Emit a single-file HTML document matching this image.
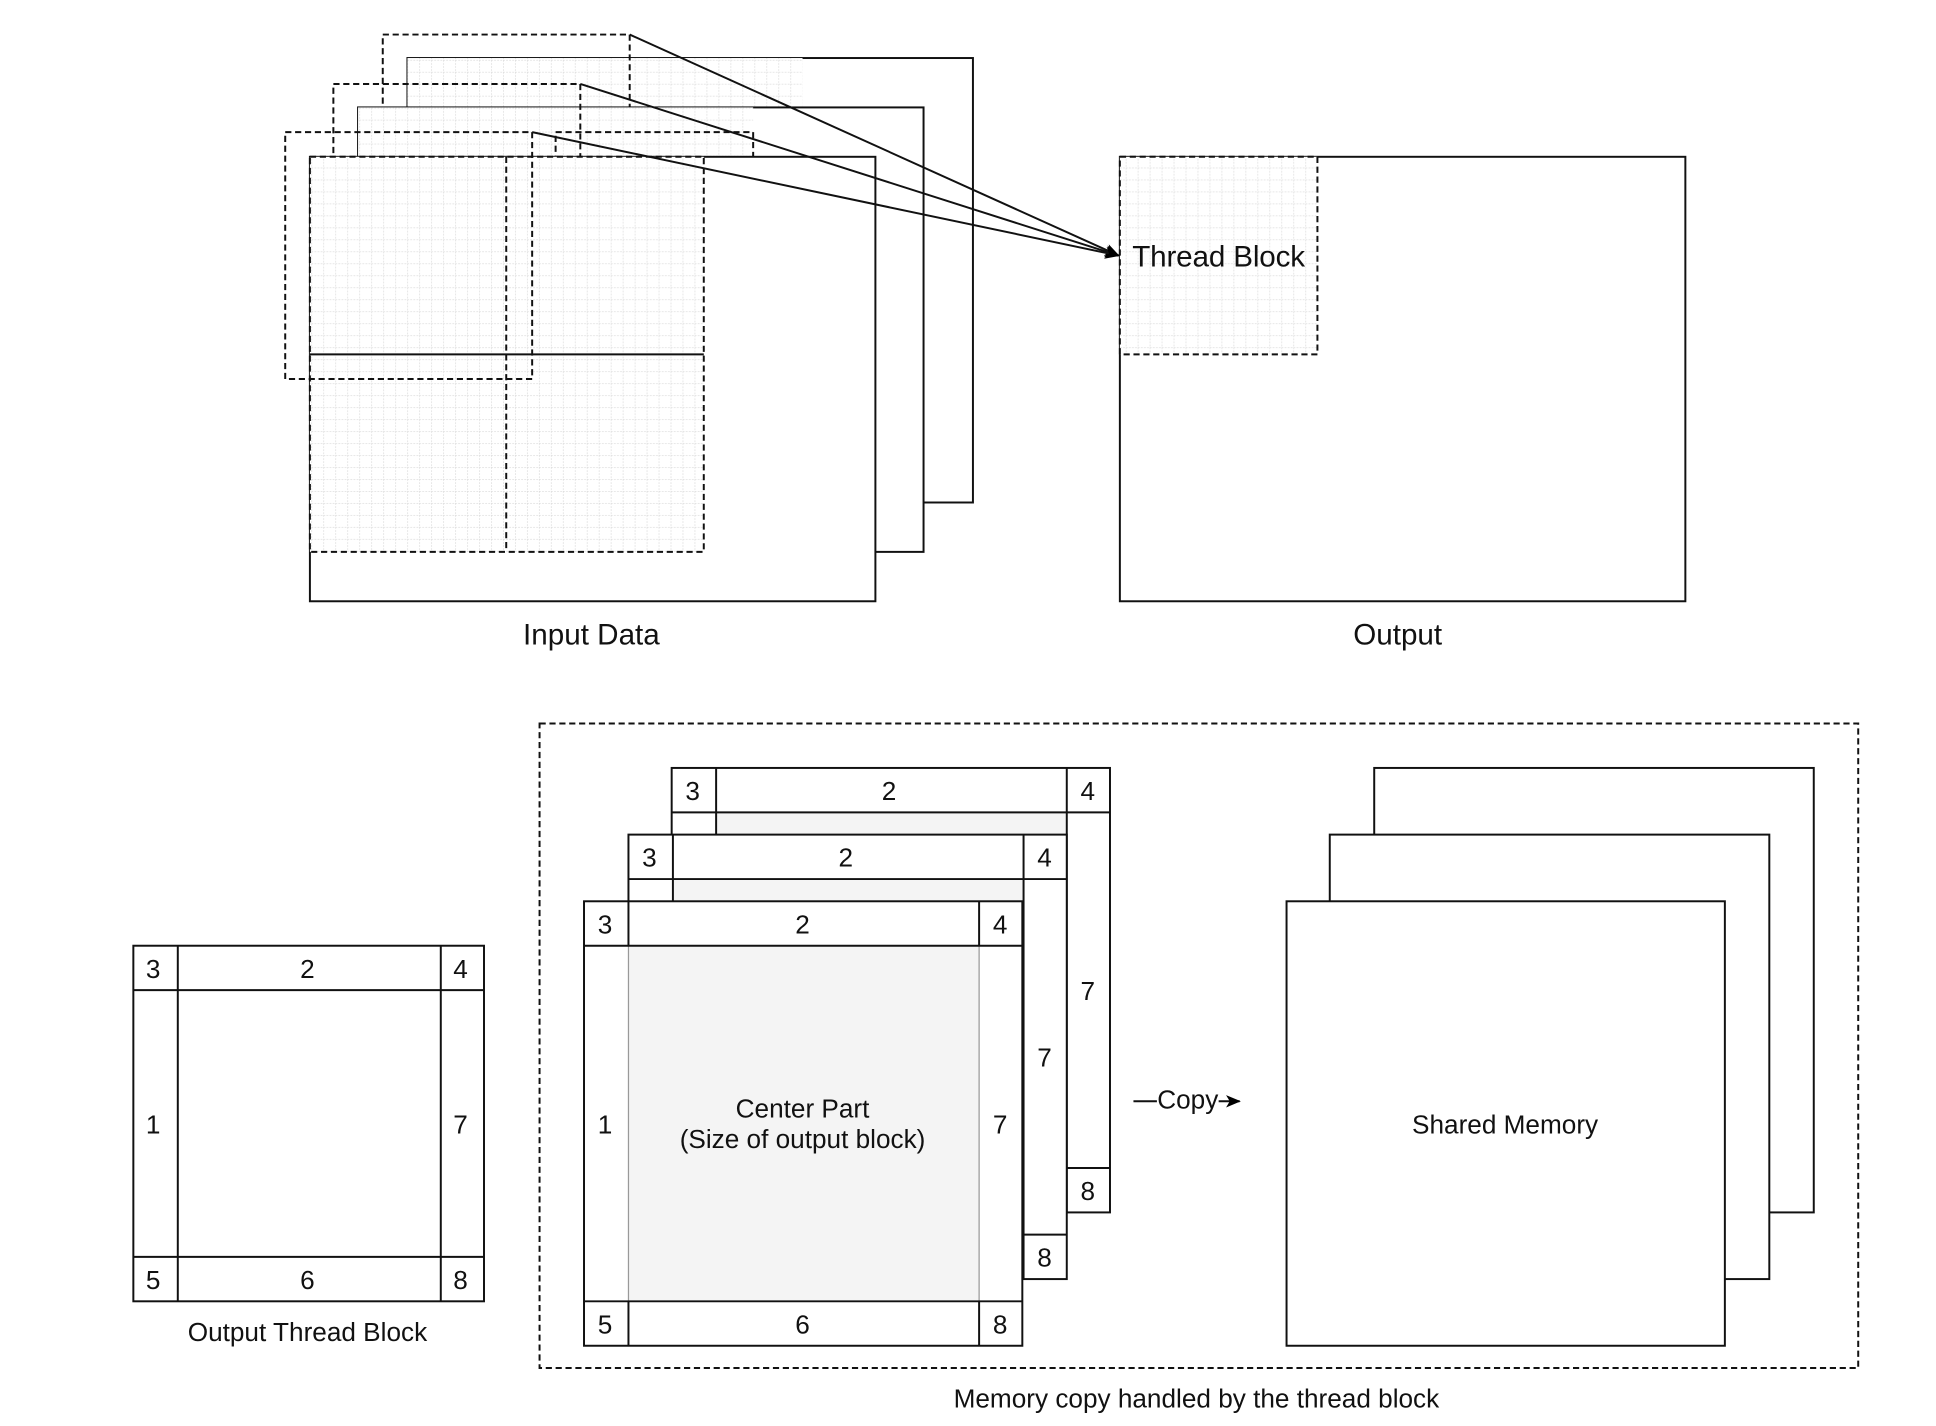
<!DOCTYPE html>
<html><head><meta charset="utf-8"><style>
html,body{margin:0;padding:0;background:#fff;width:1936px;height:1426px;overflow:hidden}
svg{display:block}
text{font-family:"Liberation Sans",Arial,sans-serif;fill:#111}
</style></head><body>
<svg width="1936" height="1426" viewBox="0 0 1568 1155" preserveAspectRatio="none" xmlns="http://www.w3.org/2000/svg">
<defs>
<pattern id="g" width="9.7" height="9.7" patternUnits="userSpaceOnUse">
<rect width="9.7" height="9.7" fill="#fff"/>
<path d="M0 0H9.7M0 0V9.7" stroke="#d8d8d8" stroke-width="1" stroke-dasharray="1.5 1"/>
</pattern>
<marker id="ah" markerWidth="12" markerHeight="10" refX="11" refY="5" orient="auto" markerUnits="userSpaceOnUse">
<path d="M0 0L12 5L0 10L3 5Z" fill="#000"/>
</marker>
</defs>
<g fill="none" stroke="#111" stroke-width="1.6">
<rect x="330" y="47" width="458" height="360" fill="#fff"/>
<rect x="330" y="47" width="320" height="320" fill="url(#g)" stroke="none"/>
<rect x="310" y="28" width="200" height="200" stroke-dasharray="5 3"/>
<rect x="290" y="87" width="458" height="360" fill="#fff"/>
<rect x="290" y="87" width="320" height="320" fill="url(#g)" stroke="none"/>
<rect x="450" y="107" width="160" height="160" stroke-dasharray="5 3"/>
<rect x="270" y="68" width="200" height="200" stroke-dasharray="5 3"/>
<rect x="251" y="127" width="458" height="360" fill="#fff"/>
<rect x="251" y="127" width="319" height="320" fill="url(#g)" stroke-dasharray="5 3"/>
<line x1="410" y1="127" x2="410" y2="447" stroke-dasharray="5 3"/>
<line x1="251" y1="287" x2="570" y2="287"/>
<rect x="231" y="107" width="200" height="200" stroke-dasharray="5 3"/>
<rect x="907" y="127" width="458" height="360" fill="#fff"/>
<rect x="907" y="127" width="160" height="160" fill="url(#g)" stroke-dasharray="5 3"/>
<line x1="510" y1="28" x2="906" y2="207" marker-end="url(#ah)"/>
<line x1="470" y1="68" x2="906" y2="207" marker-end="url(#ah)"/>
<line x1="431" y1="107" x2="906" y2="207" marker-end="url(#ah)"/>
<rect x="437" y="586" width="1068" height="522" stroke-dasharray="5 3"/>
<rect x="108" y="766" width="284" height="288" fill="#fff"/>
<path d="M144 766V1054M357 766V1054M108 802H392M108 1018H392"/>
<rect x="544" y="622" width="355" height="360" fill="#fff"/>
<rect x="580" y="658" width="284" height="288" fill="#f4f4f4" stroke="#999" stroke-width="1"/>
<path d="M580 622V982M864 622V982M544 658H899M544 946H899"/>
<rect x="509" y="676" width="355" height="360" fill="#fff"/>
<rect x="545" y="712" width="284" height="288" fill="#f4f4f4" stroke="#999" stroke-width="1"/>
<path d="M545 676V1036M829 676V1036M509 712H864M509 1000H864"/>
<rect x="473" y="730" width="355" height="360" fill="#fff"/>
<rect x="509" y="766" width="284" height="288" fill="#f4f4f4" stroke="#999" stroke-width="1"/>
<path d="M509 730V766M793 730V766M509 1054V1090M793 1054V1090M473 766H828M473 1054H828"/>
<rect x="1113" y="622" width="356" height="360" fill="#fff"/>
<rect x="1077" y="676" width="356" height="360" fill="#fff"/>
<rect x="1042" y="730" width="355" height="360" fill="#fff"/>
<line x1="918" y1="892" x2="937" y2="892"/>
<line x1="987" y1="892" x2="1004" y2="892" marker-end="url(#ah)"/>
</g>
<g font-size="24">
<text x="917" y="216" textLength="140">Thread Block</text>
<text x="479" y="522" text-anchor="middle">Input Data</text>
<text x="1132" y="522" text-anchor="middle">Output</text>
</g>
<g font-size="21.2" text-anchor="middle">
<text x="124" y="792">3</text><text x="249" y="792">2</text><text x="373" y="792">4</text>
<text x="124" y="918">1</text><text x="373" y="918">7</text>
<text x="124" y="1044">5</text><text x="249" y="1044">6</text><text x="373" y="1044">8</text>
<text x="249" y="1086">Output Thread Block</text>
<text x="561" y="648">3</text><text x="720" y="648">2</text><text x="881" y="648">4</text>
<text x="881" y="810">7</text><text x="881" y="972">8</text>
<text x="526" y="702">3</text><text x="685" y="702">2</text><text x="846" y="702">4</text>
<text x="846" y="864">7</text><text x="846" y="1026">8</text>
<text x="490" y="756">3</text><text x="650" y="756">2</text><text x="810" y="756">4</text>
<text x="490" y="918">1</text><text x="810" y="918">7</text>
<text x="490" y="1080">5</text><text x="650" y="1080">6</text><text x="810" y="1080">8</text>
<text x="650" y="905">Center Part</text>
<text x="650" y="930">(Size of output block)</text>
<text x="962" y="898">Copy</text>
<text x="1219" y="918">Shared Memory</text>
<text x="969" y="1140">Memory copy handled by the thread block</text>
</g>
</svg>
</body></html>
